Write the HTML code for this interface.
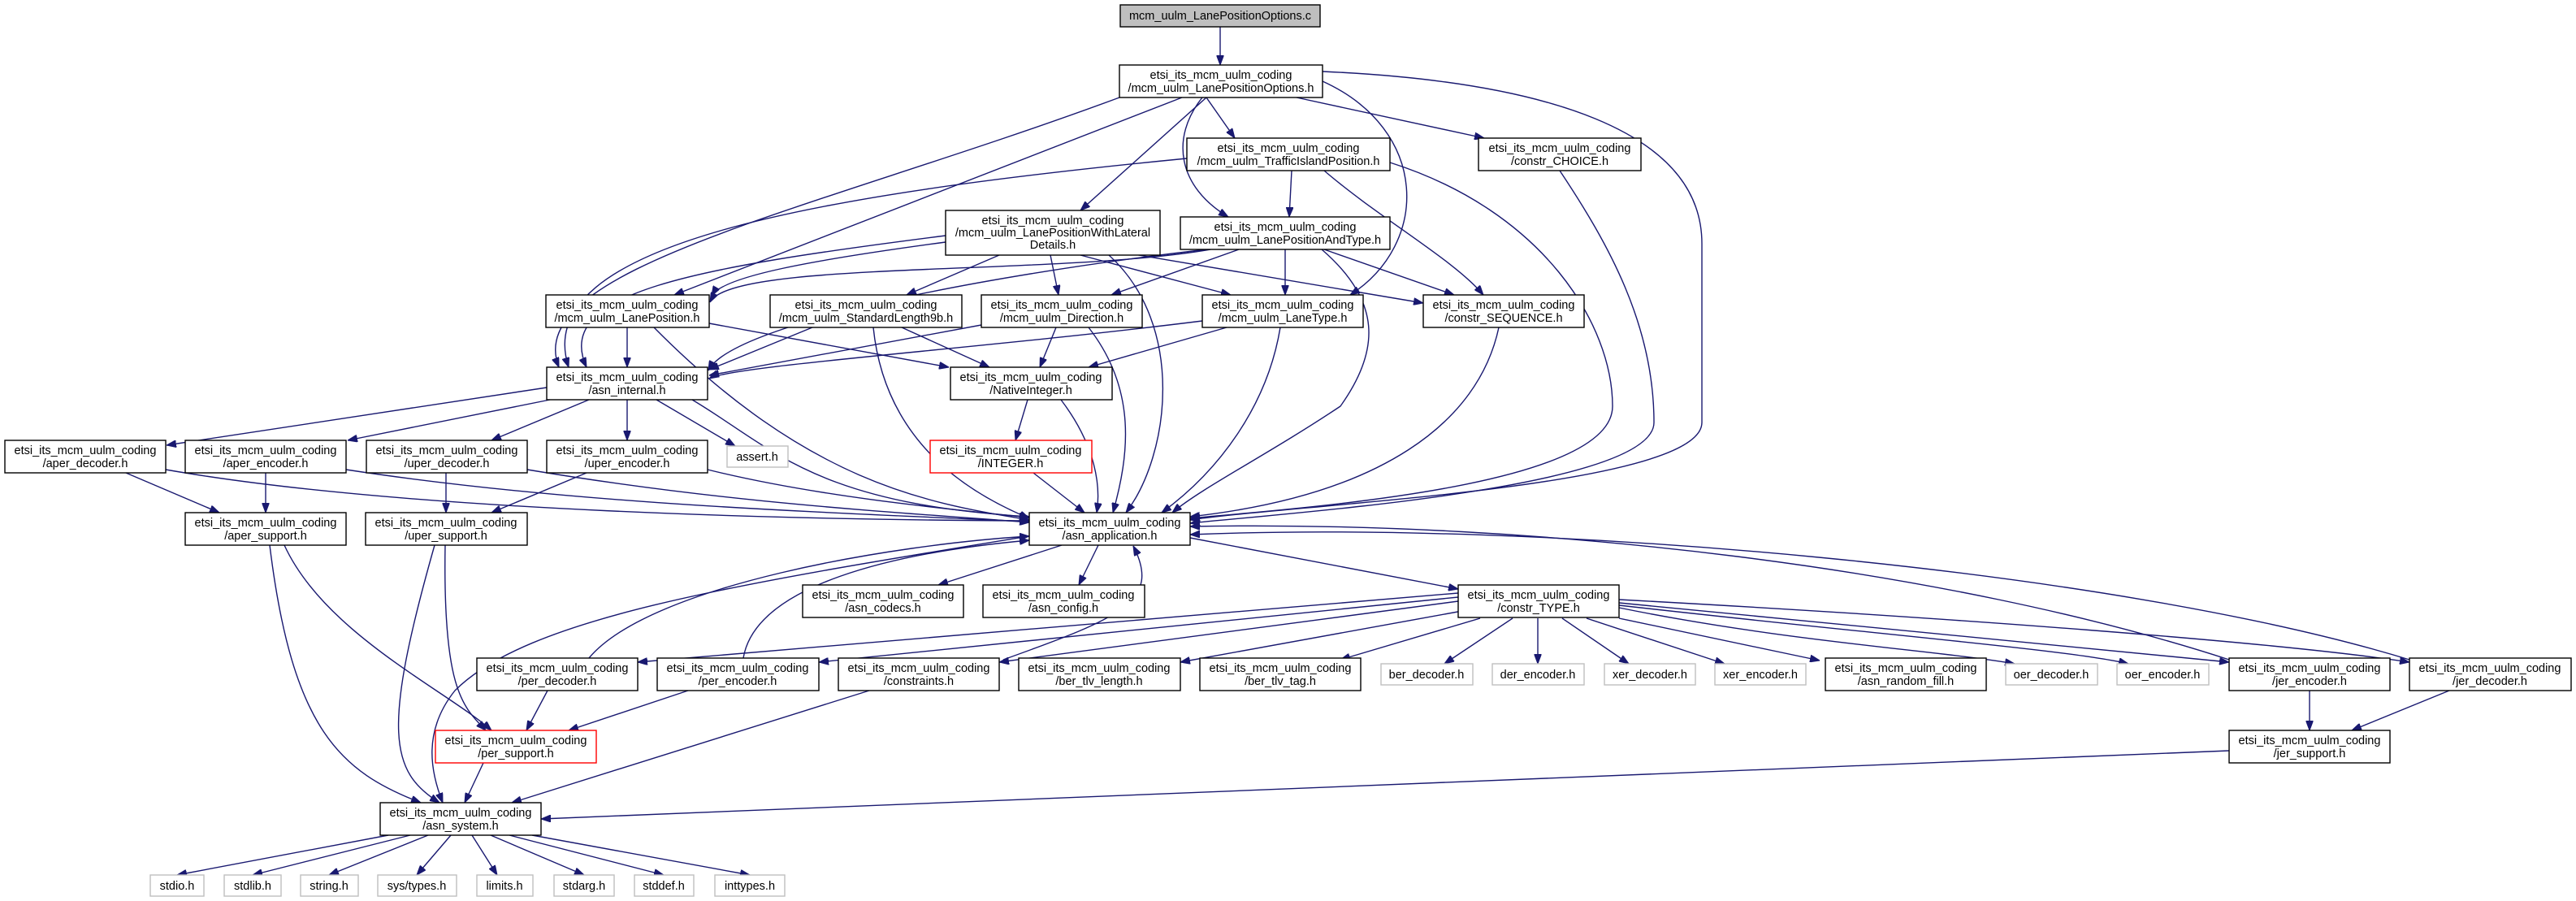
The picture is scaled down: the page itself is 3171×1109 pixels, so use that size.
<!DOCTYPE html>
<html><head><meta charset="utf-8"><style>
html,body{margin:0;padding:0;background:#fff}
svg{display:block}
text{font-family:"Liberation Sans",Helvetica,Arial,sans-serif;font-size:14.5px;fill:#000;text-anchor:middle}
.n{fill:#fff;stroke:#000;stroke-width:1.4}
.g{fill:#fff;stroke:#bfbfbf;stroke-width:1.4}
.r{fill:#fff;stroke:#ff0000;stroke-width:1.4}
.e{fill:none;stroke:#191970;stroke-width:1.4}
</style></head><body>
<svg width="3171" height="1109" viewBox="0 0 3171 1109" xmlns="http://www.w3.org/2000/svg">
<defs><marker id="a" viewBox="0 0 12 9" refX="12" refY="4.5" markerWidth="12" markerHeight="9" markerUnits="userSpaceOnUse" orient="auto"><path d="M0,0 L12,4.5 L0,9 z" fill="#191970" stroke="#191970"/></marker></defs>
<g class="edges" marker-end="url(#a)">
<path class="e" marker-end="url(#a)" d="M1502,33 L1502,80"/>
<path class="e" marker-end="url(#a)" d="M1485,120 L1520,170"/>
<path class="e" marker-end="url(#a)" d="M1596,120 L1827,170"/>
<path class="e" marker-end="url(#a)" d="M1485,120 L1330,259"/>
<path class="e" marker-end="url(#a)" d="M1480,120 C1440,170 1450,230 1512,267"/>
<path class="e" marker-end="url(#a)" d="M1628,100 C1760,160 1760,300 1662,363"/>
<path class="e" marker-end="url(#a)" d="M1628,88 C1900,100 2095,160 2095,300 L2095,520 C2095,600 1600,620 1465,640"/>
<path class="e" marker-end="url(#a)" d="M1455,120 L830,363"/>
<path class="e" marker-end="url(#a)" d="M1378,120 C1000,260 640,330 688,452"/>
<path class="e" marker-end="url(#a)" d="M1461,195 C1000,240 650,300 700,452"/>
<path class="e" marker-end="url(#a)" d="M1590,210 L1587,267"/>
<path class="e" marker-end="url(#a)" d="M1630,210 C1700,270 1790,320 1826,363"/>
<path class="e" marker-end="url(#a)" d="M1711,200 C1900,260 1985,400 1985,500 C1985,600 1600,625 1465,638"/>
<path class="e" marker-end="url(#a)" d="M1920,210 C1980,300 2036,400 2036,520 C2036,600 1600,630 1465,644"/>
<path class="e" marker-end="url(#a)" d="M1164,298 C1000,320 890,340 876,364"/>
<path class="e" marker-end="url(#a)" d="M1164,290 C850,330 680,360 722,452"/>
<path class="e" marker-end="url(#a)" d="M1230,314 L1116,363"/>
<path class="e" marker-end="url(#a)" d="M1293,314 L1303,363"/>
<path class="e" marker-end="url(#a)" d="M1330,314 L1515,363"/>
<path class="e" marker-end="url(#a)" d="M1390,312 L1752,373"/>
<path class="e" marker-end="url(#a)" d="M1365,314 C1460,400 1440,560 1386,631"/>
<path class="e" marker-end="url(#a)" d="M1490,307 C1300,340 900,320 874,372"/>
<path class="e" marker-end="url(#a)" d="M1485,307 C1200,340 900,400 872,456"/>
<path class="e" marker-end="url(#a)" d="M1525,307 L1368,363"/>
<path class="e" marker-end="url(#a)" d="M1582,307 L1582,363"/>
<path class="e" marker-end="url(#a)" d="M1630,307 L1790,363"/>
<path class="e" marker-end="url(#a)" d="M1627,307 C1700,370 1700,430 1650,500 C1560,560 1480,600 1443,631"/>
<path class="e" marker-end="url(#a)" d="M772,403 L772,452"/>
<path class="e" marker-end="url(#a)" d="M873,398 L1168,452"/>
<path class="e" marker-end="url(#a)" d="M805,403 C1000,600 1150,620 1267,640"/>
<path class="e" marker-end="url(#a)" d="M1000,403 L873,455"/>
<path class="e" marker-end="url(#a)" d="M1110,403 L1218,452"/>
<path class="e" marker-end="url(#a)" d="M1075,403 C1090,550 1200,610 1267,638"/>
<path class="e" marker-end="url(#a)" d="M1208,400 L873,462"/>
<path class="e" marker-end="url(#a)" d="M1300,403 L1280,452"/>
<path class="e" marker-end="url(#a)" d="M1340,403 C1400,480 1390,560 1370,631"/>
<path class="e" marker-end="url(#a)" d="M1480,395 C1200,430 900,450 873,466"/>
<path class="e" marker-end="url(#a)" d="M1510,403 L1340,452"/>
<path class="e" marker-end="url(#a)" d="M1576,403 C1560,500 1500,580 1430,631"/>
<path class="e" marker-end="url(#a)" d="M1845,403 C1820,520 1700,610 1465,636"/>
<path class="e" marker-end="url(#a)" d="M1265,492 L1250,542"/>
<path class="e" marker-end="url(#a)" d="M1306,492 C1350,550 1355,600 1350,631"/>
<path class="e" marker-end="url(#a)" d="M1272,582 L1335,631"/>
<path class="e" marker-end="url(#a)" d="M673,477 L205,548"/>
<path class="e" marker-end="url(#a)" d="M677,492 L428,542"/>
<path class="e" marker-end="url(#a)" d="M725,492 L605,542"/>
<path class="e" marker-end="url(#a)" d="M772,492 L772,542"/>
<path class="e" marker-end="url(#a)" d="M808,492 L905,549"/>
<path class="e" marker-end="url(#a)" d="M852,492 C950,550 1000,620 1267,636"/>
<path class="e" marker-end="url(#a)" d="M155,582 L270,631"/>
<path class="e" marker-end="url(#a)" d="M204,578 C500,630 1000,640 1267,641"/>
<path class="e" marker-end="url(#a)" d="M327,582 L327,631"/>
<path class="e" marker-end="url(#a)" d="M426,578 C700,620 1000,630 1267,642"/>
<path class="e" marker-end="url(#a)" d="M549,582 L549,631"/>
<path class="e" marker-end="url(#a)" d="M649,578 C900,620 1100,630 1267,643"/>
<path class="e" marker-end="url(#a)" d="M722,582 L605,631"/>
<path class="e" marker-end="url(#a)" d="M871,578 C1000,610 1150,625 1267,637"/>
<path class="e" marker-end="url(#a)" d="M350,671 C400,780 550,850 605,899"/>
<path class="e" marker-end="url(#a)" d="M332,671 C360,900 420,950 518,988"/>
<path class="e" marker-end="url(#a)" d="M548,671 C545,850 570,870 598,899"/>
<path class="e" marker-end="url(#a)" d="M535,671 C470,900 480,950 541,988"/>
<path class="e" marker-end="url(#a)" d="M1307,671 L1155,720"/>
<path class="e" marker-end="url(#a)" d="M1352,671 L1328,720"/>
<path class="e" marker-end="url(#a)" d="M1465,662 L1795,725"/>
<path class="e" marker-end="url(#a)" d="M1266,660 C900,720 650,760 560,850 C520,900 530,950 545,988"/>
<path class="e" marker-end="url(#a)" d="M674,850 L648,899"/>
<path class="e" marker-end="url(#a)" d="M725,810 C800,720 1100,670 1267,660"/>
<path class="e" marker-end="url(#a)" d="M847,850 L700,899"/>
<path class="e" marker-end="url(#a)" d="M915,810 C930,720 1100,680 1267,665"/>
<path class="e" marker-end="url(#a)" d="M1070,850 L630,988"/>
<path class="e" marker-end="url(#a)" d="M1235,812 C1380,760 1430,740 1395,672"/>
<path class="e" marker-end="url(#a)" d="M1795,730 L785,815"/>
<path class="e" marker-end="url(#a)" d="M1795,735 L1008,815"/>
<path class="e" marker-end="url(#a)" d="M1795,740 L1230,815"/>
<path class="e" marker-end="url(#a)" d="M1800,752 L1453,815"/>
<path class="e" marker-end="url(#a)" d="M1822,761 L1650,812"/>
<path class="e" marker-end="url(#a)" d="M1862,761 L1778,817"/>
<path class="e" marker-end="url(#a)" d="M1893,761 L1893,817"/>
<path class="e" marker-end="url(#a)" d="M1923,761 L2005,817"/>
<path class="e" marker-end="url(#a)" d="M1953,761 L2123,817"/>
<path class="e" marker-end="url(#a)" d="M1993,761 L2240,813"/>
<path class="e" marker-end="url(#a)" d="M1993,748 C2200,790 2380,800 2480,817"/>
<path class="e" marker-end="url(#a)" d="M1993,745 C2300,780 2550,800 2620,817"/>
<path class="e" marker-end="url(#a)" d="M1993,742 C2300,770 2600,800 2744,815"/>
<path class="e" marker-end="url(#a)" d="M1993,738 C2400,760 2800,790 2966,815"/>
<path class="e" marker-end="url(#a)" d="M2843,850 L2843,899"/>
<path class="e" marker-end="url(#a)" d="M3015,850 L2895,899"/>
<path class="e" marker-end="url(#a)" d="M2744,812 C2400,700 1900,640 1465,648"/>
<path class="e" marker-end="url(#a)" d="M2966,812 C2600,700 1900,640 1465,658"/>
<path class="e" marker-end="url(#a)" d="M2744,924 L666,1008"/>
<path class="e" marker-end="url(#a)" d="M595,939 L572,988"/>
<path class="e" marker-end="url(#a)" d="M478,1028 L218,1077"/>
<path class="e" marker-end="url(#a)" d="M505,1028 L311,1077"/>
<path class="e" marker-end="url(#a)" d="M527,1028 L405,1077"/>
<path class="e" marker-end="url(#a)" d="M555,1028 L513,1077"/>
<path class="e" marker-end="url(#a)" d="M581,1028 L612,1077"/>
<path class="e" marker-end="url(#a)" d="M604,1028 L719,1077"/>
<path class="e" marker-end="url(#a)" d="M627,1028 L817,1077"/>
<path class="e" marker-end="url(#a)" d="M655,1028 L923,1077"/>
</g>
<g>
<rect x="1379" y="6" width="246" height="27" fill="#bfbfbf" stroke="#000" stroke-width="1.4"/><text x="1502" y="24">mcm_uulm_LanePositionOptions.c</text>
<rect class="n" x="1378" y="80" width="250" height="40"/><text x="1503" y="97">etsi_its_mcm_uulm_coding</text><text x="1503" y="113">/mcm_uulm_LanePositionOptions.h</text>
<rect class="n" x="1461" y="170" width="250" height="40"/><text x="1586" y="187">etsi_its_mcm_uulm_coding</text><text x="1586" y="203">/mcm_uulm_TrafficIslandPosition.h</text>
<rect class="n" x="1820" y="170" width="200" height="40"/><text x="1920" y="187">etsi_its_mcm_uulm_coding</text><text x="1920" y="203">/constr_CHOICE.h</text>
<rect class="n" x="1164" y="259" width="264" height="55"/><text x="1296" y="276">etsi_its_mcm_uulm_coding</text><text x="1296" y="291">/mcm_uulm_LanePositionWithLateral</text><text x="1296" y="306">Details.h</text>
<rect class="n" x="1453" y="267" width="258" height="40"/><text x="1582" y="284">etsi_its_mcm_uulm_coding</text><text x="1582" y="300">/mcm_uulm_LanePositionAndType.h</text>
<rect class="n" x="672" y="363" width="201" height="40"/><text x="772" y="380">etsi_its_mcm_uulm_coding</text><text x="772" y="396">/mcm_uulm_LanePosition.h</text>
<rect class="n" x="948" y="363" width="236" height="40"/><text x="1066" y="380">etsi_its_mcm_uulm_coding</text><text x="1066" y="396">/mcm_uulm_StandardLength9b.h</text>
<rect class="n" x="1208" y="363" width="198" height="40"/><text x="1307" y="380">etsi_its_mcm_uulm_coding</text><text x="1307" y="396">/mcm_uulm_Direction.h</text>
<rect class="n" x="1480" y="363" width="198" height="40"/><text x="1579" y="380">etsi_its_mcm_uulm_coding</text><text x="1579" y="396">/mcm_uulm_LaneType.h</text>
<rect class="n" x="1752" y="363" width="198" height="40"/><text x="1851" y="380">etsi_its_mcm_uulm_coding</text><text x="1851" y="396">/constr_SEQUENCE.h</text>
<rect class="n" x="673" y="452" width="198" height="40"/><text x="772" y="469">etsi_its_mcm_uulm_coding</text><text x="772" y="485">/asn_internal.h</text>
<rect class="n" x="1170" y="452" width="199" height="40"/><text x="1269" y="469">etsi_its_mcm_uulm_coding</text><text x="1269" y="485">/NativeInteger.h</text>
<rect class="n" x="6" y="542" width="198" height="40"/><text x="105" y="559">etsi_its_mcm_uulm_coding</text><text x="105" y="575">/aper_decoder.h</text>
<rect class="n" x="228" y="542" width="198" height="40"/><text x="327" y="559">etsi_its_mcm_uulm_coding</text><text x="327" y="575">/aper_encoder.h</text>
<rect class="n" x="451" y="542" width="198" height="40"/><text x="550" y="559">etsi_its_mcm_uulm_coding</text><text x="550" y="575">/uper_decoder.h</text>
<rect class="n" x="673" y="542" width="198" height="40"/><text x="772" y="559">etsi_its_mcm_uulm_coding</text><text x="772" y="575">/uper_encoder.h</text>
<rect class="g" x="895" y="549" width="75" height="26"/><text x="932" y="567">assert.h</text>
<rect class="r" x="1145" y="542" width="199" height="40"/><text x="1244" y="559">etsi_its_mcm_uulm_coding</text><text x="1244" y="575">/INTEGER.h</text>
<rect class="n" x="228" y="631" width="198" height="40"/><text x="327" y="648">etsi_its_mcm_uulm_coding</text><text x="327" y="664">/aper_support.h</text>
<rect class="n" x="450" y="631" width="199" height="40"/><text x="549" y="648">etsi_its_mcm_uulm_coding</text><text x="549" y="664">/uper_support.h</text>
<rect class="n" x="1267" y="631" width="198" height="40"/><text x="1366" y="648">etsi_its_mcm_uulm_coding</text><text x="1366" y="664">/asn_application.h</text>
<rect class="n" x="988" y="720" width="198" height="40"/><text x="1087" y="737">etsi_its_mcm_uulm_coding</text><text x="1087" y="753">/asn_codecs.h</text>
<rect class="n" x="1210" y="720" width="199" height="40"/><text x="1309" y="737">etsi_its_mcm_uulm_coding</text><text x="1309" y="753">/asn_config.h</text>
<rect class="n" x="1795" y="720" width="198" height="40"/><text x="1894" y="737">etsi_its_mcm_uulm_coding</text><text x="1894" y="753">/constr_TYPE.h</text>
<rect class="n" x="587" y="810" width="198" height="40"/><text x="686" y="827">etsi_its_mcm_uulm_coding</text><text x="686" y="843">/per_decoder.h</text>
<rect class="n" x="809" y="810" width="199" height="40"/><text x="908" y="827">etsi_its_mcm_uulm_coding</text><text x="908" y="843">/per_encoder.h</text>
<rect class="n" x="1032" y="810" width="198" height="40"/><text x="1131" y="827">etsi_its_mcm_uulm_coding</text><text x="1131" y="843">/constraints.h</text>
<rect class="n" x="1254" y="810" width="199" height="40"/><text x="1353" y="827">etsi_its_mcm_uulm_coding</text><text x="1353" y="843">/ber_tlv_length.h</text>
<rect class="n" x="1477" y="810" width="198" height="40"/><text x="1576" y="827">etsi_its_mcm_uulm_coding</text><text x="1576" y="843">/ber_tlv_tag.h</text>
<rect class="g" x="1700" y="817" width="113" height="26"/><text x="1756" y="835">ber_decoder.h</text>
<rect class="g" x="1837" y="817" width="113" height="26"/><text x="1893" y="835">der_encoder.h</text>
<rect class="g" x="1975" y="817" width="112" height="26"/><text x="2031" y="835">xer_decoder.h</text>
<rect class="g" x="2111" y="817" width="112" height="26"/><text x="2167" y="835">xer_encoder.h</text>
<rect class="n" x="2247" y="810" width="198" height="40"/><text x="2346" y="827">etsi_its_mcm_uulm_coding</text><text x="2346" y="843">/asn_random_fill.h</text>
<rect class="g" x="2469" y="817" width="113" height="26"/><text x="2525" y="835">oer_decoder.h</text>
<rect class="g" x="2606" y="817" width="113" height="26"/><text x="2662" y="835">oer_encoder.h</text>
<rect class="n" x="2744" y="810" width="198" height="40"/><text x="2843" y="827">etsi_its_mcm_uulm_coding</text><text x="2843" y="843">/jer_encoder.h</text>
<rect class="n" x="2966" y="810" width="199" height="40"/><text x="3065" y="827">etsi_its_mcm_uulm_coding</text><text x="3065" y="843">/jer_decoder.h</text>
<rect class="r" x="536" y="899" width="198" height="40"/><text x="635" y="916">etsi_its_mcm_uulm_coding</text><text x="635" y="932">/per_support.h</text>
<rect class="n" x="2744" y="899" width="198" height="40"/><text x="2843" y="916">etsi_its_mcm_uulm_coding</text><text x="2843" y="932">/jer_support.h</text>
<rect class="n" x="468" y="988" width="198" height="40"/><text x="567" y="1005">etsi_its_mcm_uulm_coding</text><text x="567" y="1021">/asn_system.h</text>
<rect class="g" x="185" y="1077" width="66" height="26"/><text x="218" y="1095">stdio.h</text>
<rect class="g" x="276" y="1077" width="70" height="26"/><text x="311" y="1095">stdlib.h</text>
<rect class="g" x="370" y="1077" width="71" height="26"/><text x="405" y="1095">string.h</text>
<rect class="g" x="465" y="1077" width="97" height="26"/><text x="513" y="1095">sys/types.h</text>
<rect class="g" x="587" y="1077" width="69" height="26"/><text x="621" y="1095">limits.h</text>
<rect class="g" x="682" y="1077" width="74" height="26"/><text x="719" y="1095">stdarg.h</text>
<rect class="g" x="781" y="1077" width="73" height="26"/><text x="817" y="1095">stddef.h</text>
<rect class="g" x="880" y="1077" width="86" height="26"/><text x="923" y="1095">inttypes.h</text>
</g>
</svg>
</body></html>
